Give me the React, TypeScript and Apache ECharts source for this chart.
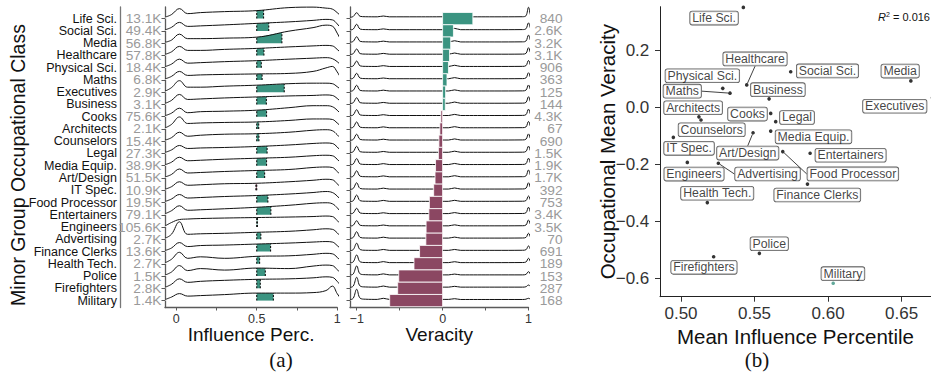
import React, { useEffect, useRef } from "react";
import * as echarts from "echarts";

// ---------------- data ----------------
const OCCUPATIONS = [
  "Life Sci.", "Social Sci.", "Media", "Healthcare", "Physical Sci.", "Maths",
  "Executives", "Business", "Cooks", "Architects", "Counselors", "Legal",
  "Media Equip.", "Art/Design", "IT Spec.", "Food Processor", "Entertainers",
  "Engineers", "Advertising", "Finance Clerks", "Health Tech.", "Police",
  "Firefighters", "Military",
];
const USER_COUNTS = [
  "13.1K", "49.4K", "56.8K", "57.8K", "18.4K", "6.8K", "2.9K", "3.1K", "75.6K",
  "2.1K", "15.4K", "27.3K", "38.9K", "51.5K", "10.9K", "19.5K", "79.1K",
  "105.6K", "2.7K", "13.6K", "2.7K", "1.5K", "2.8K", "1.4K",
];
const CLAIM_COUNTS = [
  "840", "2.6K", "3.2K", "3.1K", "906", "363", "125", "144", "4.3K", "67",
  "690", "1.5K", "1.9K", "1.7K", "392", "753", "3.4K", "3.5K", "70", "691",
  "189", "153", "287", "168",
];
const MEAN_INFLUENCE = [
  0.5424, 0.5746, 0.6563, 0.5447, 0.5284, 0.5333, 0.671, 0.5599, 0.561,
  0.5122, 0.5136, 0.5644, 0.561, 0.549, 0.4948, 0.5692, 0.5878, 0.5043,
  0.5254, 0.586, 0.5179, 0.5533, 0.5222, 0.6035,
];
const MEAN_VERACITY = [
  0.352, 0.126, 0.094, 0.08, 0.068, 0.051, 0.035, 0.031, -0.02, -0.032,
  -0.043, -0.049, -0.082, -0.088, -0.104, -0.154, -0.16, -0.192, -0.195,
  -0.268, -0.333, -0.511, -0.523, -0.616,
];

// ridgeline density readings (heights above each ridge's baseline)
const INFLUENCE_X = [-0.07, -0.03, 0.02, 0.07, 0.15, 0.3, 0.5, 0.7, 0.85, 0.93, 0.97, 1.0, 1.025, 1.05];
const INFLUENCE_DENSITY = [
  [1.5, 4, 10, 5, 6, 7, 8, 11, 11.5, 10.5, 9.5, 6, 2.5, 0.5],
  [1, 3.5, 8.5, 4.5, 5, 6, 7.5, 9, 10.5, 11.5, 11, 7, 2.5, 0.3],
  [0.8, 3, 9, 4.5, 4.5, 5, 6, 12, 15.5, 18, 17, 10, 3, 0.5],
  [1, 3.5, 9, 5, 5, 6, 7, 8.5, 9.5, 10, 9.5, 6, 2.5, 0.5],
  [1, 3.5, 8.5, 4.5, 5, 6, 7, 8.5, 9.5, 10, 9, 6, 2.5, 0.5],
  [1, 3.5, 8.5, 4.5, 5, 5.5, 6, 6.5, 8.5, 12, 13.5, 8, 2, 0.3],
  [1, 4.5, 11.5, 5, 5, 6, 7, 8.5, 9, 9, 8.5, 5.5, 2.5, 0.5],
  [1, 4, 10, 5, 5.5, 6.5, 7.5, 8.5, 9, 9.5, 9, 6, 2.5, 0.5],
  [1, 3.5, 8.5, 4, 5, 5.5, 6.5, 9, 11, 11, 10, 6.5, 2.5, 0.5],
  [1, 4.5, 12, 5.5, 6, 6.5, 7, 8.5, 10, 10, 9.5, 6, 2.5, 0.5],
  [1, 3.5, 9, 5, 6, 7, 7.5, 9, 11, 11.5, 10.5, 6.5, 2.5, 0.5],
  [1, 3.5, 8, 5, 5.5, 6, 7, 8.5, 10, 10.5, 10, 6.5, 2.5, 0.5],
  [1, 3.5, 8.5, 5, 5.5, 6.5, 7.5, 8.5, 10, 10.5, 10, 6.5, 2.5, 0.5],
  [1, 3.5, 9, 5, 5.5, 6.5, 7.5, 8.5, 10.5, 11, 10.5, 6.5, 2.5, 0.5],
  [1, 3.5, 8.5, 5, 5.5, 6.5, 7, 8.5, 10, 11, 10.5, 6.5, 2.5, 0.5],
  [1, 3.5, 8, 4.5, 5, 6, 7, 8.5, 10, 11, 10, 6.5, 2.5, 0.5],
  [1, 4, 9, 4.5, 5, 6, 7.5, 9.5, 11.5, 12, 11, 7, 2.5, 0.5],
  [1, 4.5, 7.5, 8, 8.5, 9, 9.5, 10, 10.5, 11, 10.5, 6.5, 2.5, 0.5],
  [1, 5, 17.5, 5, 5.5, 6, 7, 8, 9.5, 10.5, 10, 6.5, 2.5, 0.5],
  [1, 3.5, 9, 5, 6, 6.5, 7.5, 8.5, 9.5, 10, 9.5, 6, 2.5, 0.5],
  [1, 4.5, 11.5, 5.5, 7, 5.5, 7.5, 8, 9.5, 10.5, 10, 6.5, 2.5, 0.5],
  [1, 4, 10.5, 5.5, 7.5, 6, 8, 7.5, 10, 11, 10.5, 6.5, 2.5, 0.5],
  [1, 4, 9.5, 6, 7, 8, 9, 9.5, 10.5, 11.5, 11, 7, 2.5, 0.5],
  [1, 3.5, 7, 4.5, 5, 6, 7.5, 7.5, 8, 10, 14.5, 7, 2, 0.5],
];
const VERACITY_X = [-1.078, -1.04, -1.0, -0.96, -0.9, -0.76, -0.69, -0.62, -0.3, 0.07, 0.14, 0.21, 0.6, 0.93, 0.97, 1.0, 1.03, 1.07];
const VERACITY_DENSITY = [
  [1.2, 2.2, 5.9, 2.3, 1.9, 1.8, 2.6, 1.8, 1.8, 1.9, 3.2, 1.8, 1.8, 1.9, 2.8, 11.3, 2.4, 0.5],
  [0.8, 1.8, 6.6, 1.8, 1.3, 1.2, 2.0, 1.2, 1.2, 1.2, 2.5, 1.2, 1.2, 1.3, 2.1, 8.0, 1.7, 0.4],
  [0.8, 1.8, 6.4, 1.8, 1.3, 1.2, 2.0, 1.2, 1.2, 1.2, 2.4, 1.2, 1.2, 1.3, 2.1, 8.0, 1.7, 0.4],
  [0.8, 1.8, 6.4, 1.8, 1.3, 1.2, 2.0, 1.2, 1.2, 1.2, 2.4, 1.2, 1.2, 1.3, 2.0, 7.7, 1.7, 0.4],
  [0.8, 1.8, 6.6, 1.8, 1.3, 1.2, 2.0, 1.2, 1.2, 1.2, 2.4, 1.2, 1.2, 1.3, 2.0, 7.2, 1.6, 0.4],
  [0.8, 1.8, 6.6, 1.8, 1.3, 1.2, 1.9, 1.2, 1.2, 1.2, 2.3, 1.2, 1.2, 1.3, 2.0, 7.2, 1.6, 0.4],
  [0.8, 1.8, 6.9, 1.8, 1.3, 1.2, 2.0, 1.2, 1.2, 1.2, 2.3, 1.2, 1.2, 1.3, 2.0, 7.2, 1.6, 0.4],
  [0.8, 1.8, 6.7, 1.8, 1.3, 1.2, 2.0, 1.2, 1.2, 1.2, 2.4, 1.2, 1.2, 1.3, 2.0, 7.7, 1.6, 0.4],
  [0.8, 1.8, 7.0, 1.8, 1.3, 1.2, 2.0, 1.2, 1.2, 1.2, 2.3, 1.2, 1.2, 1.3, 2.0, 7.5, 1.6, 0.4],
  [0.8, 1.8, 7.0, 1.8, 1.3, 1.2, 2.1, 1.2, 1.2, 1.2, 2.3, 1.2, 1.2, 1.3, 2.0, 7.5, 1.6, 0.4],
  [0.8, 1.8, 7.0, 1.8, 1.3, 1.2, 2.0, 1.2, 1.2, 1.2, 2.3, 1.2, 1.2, 1.3, 2.0, 7.3, 1.6, 0.4],
  [0.8, 1.8, 7.2, 1.8, 1.3, 1.2, 2.0, 1.2, 1.2, 1.2, 2.3, 1.2, 1.2, 1.3, 2.0, 7.3, 1.6, 0.4],
  [0.8, 1.8, 7.2, 1.8, 1.3, 1.2, 2.1, 1.2, 1.2, 1.2, 2.3, 1.2, 1.2, 1.3, 2.0, 7.5, 1.6, 0.4],
  [0.8, 1.8, 7.2, 1.8, 1.3, 1.2, 2.1, 1.2, 1.2, 1.2, 2.3, 1.2, 1.2, 1.3, 2.1, 8.0, 1.7, 0.4],
  [0.8, 1.8, 7.5, 1.8, 1.3, 1.2, 2.1, 1.2, 1.2, 1.2, 2.3, 1.2, 1.2, 1.3, 2.0, 7.5, 1.6, 0.4],
  [0.8, 1.8, 7.5, 1.8, 1.3, 1.2, 2.1, 1.2, 1.2, 1.2, 2.2, 1.2, 1.2, 1.3, 1.9, 6.5, 1.5, 0.4],
  [0.8, 1.8, 6.5, 1.8, 1.3, 1.2, 2.0, 1.2, 1.2, 1.2, 2.2, 1.2, 1.2, 1.3, 2.0, 7.5, 1.6, 0.4],
  [0.8, 1.8, 6.3, 1.8, 1.3, 1.2, 2.0, 1.2, 1.2, 1.2, 2.2, 1.2, 1.2, 1.3, 2.0, 7.0, 1.6, 0.4],
  [0.8, 1.9, 7.6, 1.9, 1.3, 1.2, 2.1, 1.2, 1.2, 1.2, 2.2, 1.2, 1.2, 1.3, 1.9, 6.0, 1.5, 0.4],
  [0.8, 2.0, 8.3, 2.0, 1.3, 1.2, 2.1, 1.2, 1.2, 1.2, 2.1, 1.2, 1.2, 1.3, 1.8, 5.6, 1.5, 0.4],
  [0.8, 2.0, 8.8, 2.0, 1.3, 1.2, 2.2, 1.2, 1.2, 1.2, 2.1, 1.2, 1.2, 1.3, 1.8, 5.5, 1.5, 0.4],
  [0.8, 2.2, 10.1, 2.2, 1.4, 1.2, 2.2, 1.2, 1.2, 1.2, 2.0, 1.2, 1.2, 1.2, 1.7, 4.4, 1.4, 0.4],
  [0.8, 2.3, 11.0, 2.3, 1.4, 1.2, 2.3, 1.2, 1.2, 1.2, 2.0, 1.2, 1.2, 1.2, 1.6, 3.3, 1.3, 0.4],
  [0.8, 2.4, 11.3, 2.4, 1.4, 1.2, 2.3, 1.2, 1.2, 1.2, 1.9, 1.1, 1.1, 1.1, 1.4, 2.3, 1.2, 0.4],
];

const INFLUENCE_TICKS = [0, 0.25, 0.5, 0.75, 1];
const INFLUENCE_LABELS = [0, 0.5, 1];
const VERACITY_TICKS = [-1, -0.5, 0, 0.5, 1];
const VERACITY_LABELS = [-1, 0, 1];
const SCATTER_X_TICKS = [0.5, 0.55, 0.6, 0.65];
const SCATTER_Y_TICKS = [-0.6, -0.4, -0.2, 0, 0.2];
const LINKED_LABELS = ["Healthcare", "Maths", "Art/Design", "Food Processor", "Advertising"];

// ---------------- layout / style ----------------
const LABEL_NUDGE: number[][] = [
  [-29.3, 10.7], [36.8, -0.9], [-10.7, -9.8], [8.3, -26], [-20.4, -12.5], [-47.7, -2],
  [-37.7, 8.6], [8.8, -9.2], [-23.2, 0.7], [-5.8, -9], [10.7, 9.8], [21.3, -4.2],
  [42.8, 5.8], [-5.3, 20.3], [15.7, 11], [70.1, 22.3], [40.5, 2], [6.7, 11.7],
  [49.2, 10.7], [9.8, 11], [9.9, -9.4], [9.9, -9.6], [-9.7, 10.6], [9.7, -9.6],
];
const TEAL = "#3b9481";
const MAROON = "#8b4762";
const FONT = "'Liberation Sans', Arial, Helvetica, sans-serif";
const SERIF = "'Liberation Serif', 'DejaVu Serif', serif";
const PANEL_AXIS = "#5a5a5a";
const PX_PER_ROW = 12.26;
const ROW_MIN = -0.563;
const ROW_MAX = 23.948;
const PANEL_TOP = 7;
const PANEL_H = 300.5;

const N = OCCUPATIONS.length;
const ROW_VALUES = OCCUPATIONS.map((_, r) => N - 1 - r);
const LABEL_TOP = PANEL_TOP + (ROW_MAX - (N - 1) - 0.5) * (PANEL_H / (ROW_MAX - ROW_MIN));
const LABEL_H = N * (PANEL_H / (ROW_MAX - ROW_MIN));
const minus = (v: number, d?: number) => {
  const s = d === undefined ? String(Math.abs(v)) : Math.abs(v).toFixed(d);
  return v < 0 ? "\u2212" + s : s;
};

function lerp(xs: number[], ys: number[], x: number) {
  for (let i = 0; i < xs.length - 1; i++) {
    if (x >= xs[i] && x <= xs[i + 1]) {
      const t = (x - xs[i]) / (xs[i + 1] - xs[i]);
      return ys[i] + t * (ys[i + 1] - ys[i]);
    }
  }
  return ys[ys.length - 1];
}

function buildOption() {
  const series: any[] = [];

  // influence ridges (each ridge: white fill, highlighted region, outline)
  OCCUPATIONS.forEach((_, r) => {
    const k = N - 1 - r;
    const dens = INFLUENCE_DENSITY[r];
    const pts = INFLUENCE_X.map((x, i) => [x, k + dens[i] / PX_PER_ROW]);
    series.push({
      type: "line", xAxisIndex: 0, yAxisIndex: 0, data: pts, smooth: 0.4,
      symbol: "none", silent: true, clip: false, z: 10 + 3 * r,
      lineStyle: { width: 0, opacity: 0 },
      areaStyle: { color: "#ffffff", opacity: 1, origin: k },
    });
    series.push({
      type: "custom", xAxisIndex: 0, yAxisIndex: 0, silent: true, clip: false, z: 11 + 3 * r,
      data: [[MEAN_INFLUENCE[r], k]],
      renderItem: (_p: any, api: any) => {
        const m = api.value(0);
        const base = api.value(1);
        const h5 = lerp(INFLUENCE_X, dens, 0.5) / PX_PER_ROW;
        const hm = lerp(INFLUENCE_X, dens, m) / PX_PER_ROW;
        const a = api.coord([0.5, base]);
        const b = api.coord([0.5, base + h5]);
        const c = api.coord([m, base + hm]);
        const d = api.coord([m, base]);
        const dash = { stroke: "#111", lineWidth: 1.1, lineDash: [2, 1.5] };
        return {
          type: "group",
          children: [
            { type: "polygon", shape: { points: [a, b, c, d] }, style: { fill: m >= 0.5 ? TEAL : MAROON } },
            { type: "line", shape: { x1: a[0], y1: a[1], x2: b[0], y2: b[1] }, style: dash },
            { type: "line", shape: { x1: d[0], y1: d[1], x2: c[0], y2: c[1] }, style: dash },
          ],
        };
      },
    });
    series.push({
      type: "line", xAxisIndex: 0, yAxisIndex: 0, data: pts, smooth: 0.4,
      symbol: "none", silent: true, clip: false, z: 12 + 3 * r,
      lineStyle: { color: "#111", width: 1 },
    });
  });

  // veracity ridges
  OCCUPATIONS.forEach((_, r) => {
    const k = N - 1 - r;
    const dens = VERACITY_DENSITY[r];
    series.push({
      type: "line", xAxisIndex: 1, yAxisIndex: 2,
      data: VERACITY_X.map((x, i) => [x, k + dens[i] / PX_PER_ROW]),
      smooth: 0.4, symbol: "none", silent: true, clip: false, z: 10 + r,
      lineStyle: { color: "#111", width: 1 },
      areaStyle: { color: "#ffffff", opacity: 1, origin: k },
    });
  });

  // veracity mean bars
  series.push({
    type: "custom", xAxisIndex: 1, yAxisIndex: 2, silent: true, clip: false, z: 120,
    data: MEAN_VERACITY.map((v, r) => [v, N - 1 - r]),
    renderItem: (_p: any, api: any) => {
      const v = api.value(0);
      const k = api.value(1);
      const p0 = api.coord([Math.min(0, v), k + 0.5]);
      const p1 = api.coord([Math.max(0, v), k - 0.5]);
      return {
        type: "rect",
        shape: { x: p0[0], y: p0[1], width: p1[0] - p0[0], height: p1[1] - p0[1] },
        style: { fill: v >= 0 ? TEAL : MAROON, stroke: "#ffffff", lineWidth: 0.8 },
      };
    },
  });

  // scatter
  series.push({
    type: "scatter", xAxisIndex: 2, yAxisIndex: 3, clip: false, symbolSize: 3.6, z: 5,
    data: OCCUPATIONS.map((name, r) => ({
      value: [MEAN_INFLUENCE[r], MEAN_VERACITY[r]],
      name,
      itemStyle: { color: name === "Military" ? TEAL : "#000" },
      labelLine: { show: LINKED_LABELS.includes(name) },
    })),
    label: {
      show: true, position: "inside", formatter: "{b}", fontSize: 12.3,
      fontFamily: FONT, color: "#111", backgroundColor: "#fff",
      borderColor: "#333", borderWidth: 0.8, borderRadius: 2,
      padding: [1, 2, 0, 2], lineHeight: 12,
    },
    labelLine: { show: false, lineStyle: { color: "#111", width: 0.8 } },
    labelLayout: (p: any) => ({ dx: LABEL_NUDGE[p.dataIndex][0], dy: LABEL_NUDGE[p.dataIndex][1] }),
    emphasis: { disabled: true },
  });

  const rowAxis = { type: "value", min: ROW_MIN, max: ROW_MAX, splitLine: { show: false } };
  const panelLine = { show: true, onZero: false, lineStyle: { color: PANEL_AXIS, width: 1.3 } };
  const hiddenX = { type: "value", show: false, min: 0, max: 1 };
  const catLabels = (data: string[], extra: any) => ({
    type: "category", inverse: true, data, splitLine: { show: false },
    axisLine: { show: false }, axisTick: { show: false },
    axisLabel: { interval: 0, lineHeight: 12, ...extra },
  });

  return {
    animation: false,
    backgroundColor: "#fff",
    textStyle: { fontFamily: FONT },
    grid: [
      { left: 165, top: PANEL_TOP, width: 172.2, height: PANEL_H, outerBoundsMode: "none" },
      { left: 350, top: PANEL_TOP, width: 178.5, height: PANEL_H, outerBoundsMode: "none" },
      { left: 660, top: 6.7, width: 271, height: 290, outerBoundsMode: "none" },
      { left: 165, top: LABEL_TOP, width: 1, height: LABEL_H, outerBoundsMode: "none" },
      { left: 527.5, top: LABEL_TOP, width: 1, height: LABEL_H, outerBoundsMode: "none" },
    ],
    xAxis: [
      {
        type: "value", gridIndex: 0, min: -0.07, max: 1.0, splitLine: { show: false },
        axisLine: panelLine,
        axisTick: { show: true, length: 3, customValues: INFLUENCE_TICKS, lineStyle: { color: PANEL_AXIS } },
        axisLabel: { customValues: INFLUENCE_LABELS, showMinLabel: true, showMaxLabel: true, margin: 4.5, fontSize: 12.5, color: "#333", formatter: (v: number) => minus(v) },
        name: "Influence Perc.", nameLocation: "middle", nameGap: 17, nameMoveOverlap: false,
        nameTextStyle: { fontSize: 19, color: "#111", fontFamily: FONT },
      },
      {
        type: "value", gridIndex: 1, min: -1.078, max: 1.0, splitLine: { show: false },
        axisLine: panelLine,
        axisTick: { show: true, length: 3, customValues: VERACITY_TICKS, lineStyle: { color: PANEL_AXIS } },
        axisLabel: { customValues: VERACITY_LABELS, showMinLabel: true, showMaxLabel: true, margin: 4.5, fontSize: 12.5, color: "#333", formatter: (v: number) => minus(v) },
        name: "Veracity", nameLocation: "middle", nameGap: 17, nameMoveOverlap: false,
        nameTextStyle: { fontSize: 19, color: "#111", fontFamily: FONT },
      },
      {
        type: "value", gridIndex: 2, min: 0.48572, max: 0.67, splitLine: { show: false },
        axisLine: { show: true, onZero: false, lineStyle: { color: "#222", width: 1 } },
        axisTick: { show: true, length: 5, customValues: SCATTER_X_TICKS, lineStyle: { color: "#333" } },
        axisLabel: { customValues: SCATTER_X_TICKS, margin: 8, fontSize: 17, color: "#333", formatter: (v: number) => v.toFixed(2) },
        name: "Mean Influence Percentile", nameLocation: "middle", nameGap: 29.7, nameMoveOverlap: false,
        nameTextStyle: { fontSize: 20.5, color: "#111", fontFamily: FONT },
      },
      { ...hiddenX, gridIndex: 3 },
      { ...hiddenX, gridIndex: 4 },
    ],
    yAxis: [
      {
        ...rowAxis, gridIndex: 0, position: "left", axisLine: panelLine,
        axisTick: { show: true, length: 3.5, customValues: ROW_VALUES, lineStyle: { color: PANEL_AXIS } },
        axisLabel: { show: false },
      },
      {
        ...rowAxis, gridIndex: 0, position: "left", offset: 45,
        axisLine: { show: true, onZero: false, lineStyle: { color: "#777", width: 1.3 } },
        axisTick: { show: false }, axisLabel: { show: false },
      },
      {
        ...rowAxis, gridIndex: 1, position: "left", axisLine: panelLine,
        axisTick: { show: true, length: 3.5, customValues: ROW_VALUES, lineStyle: { color: PANEL_AXIS } },
        axisLabel: { show: false },
      },
      {
        type: "value", gridIndex: 2, position: "left", min: -0.6632, max: 0.3544, splitLine: { show: false },
        axisLine: { show: true, onZero: false, lineStyle: { color: "#222", width: 1 } },
        axisTick: { show: true, length: 5, customValues: SCATTER_Y_TICKS, lineStyle: { color: "#333" } },
        axisLabel: { customValues: SCATTER_Y_TICKS, margin: 10.7, fontSize: 17, color: "#333", formatter: (v: number) => minus(v, 1) },
        name: "Occupational Mean Veracity", nameLocation: "middle", nameGap: 41.7, nameMoveOverlap: false,
        nameTextStyle: { fontSize: 20.5, color: "#111", fontFamily: FONT },
      },
      { ...catLabels(USER_COUNTS, { margin: 3.5, fontSize: 13.7, color: "#9a9a9a" }), gridIndex: 3, position: "left" },
      { ...catLabels(OCCUPATIONS, { margin: 3, fontSize: 12.5, color: "#111" }), gridIndex: 3, position: "left", offset: 45 },
      { ...catLabels(CLAIM_COUNTS, { margin: 34, align: "right", fontSize: 13.7, color: "#9a9a9a" }), gridIndex: 4, position: "right" },
    ],
    graphic: [
      {
        type: "text", x: 17.5, y: 165, rotation: Math.PI / 2,
        style: { text: "Minor Group Occupational Class", fontSize: 19.5, fontFamily: FONT, fill: "#111", align: "center", verticalAlign: "middle" },
      },
      {
        type: "text", x: 930, y: 17,
        style: {
          text: "{i|R}{s|2}{n| = 0.016}", align: "right", verticalAlign: "middle", fill: "#111",
          rich: {
            i: { fontStyle: "italic", fontSize: 11, fontFamily: FONT, fill: "#111" },
            s: { fontSize: 7, fontFamily: FONT, verticalAlign: "top", padding: [0, 0, 5, 0], fill: "#111" },
            n: { fontSize: 11, fontFamily: FONT, fill: "#111" },
          },
        },
      },
      { type: "text", x: 281, y: 360, style: { text: "(a)", fontSize: 21, fontFamily: SERIF, fill: "#111", align: "center", verticalAlign: "middle" } },
      { type: "text", x: 757, y: 360, style: { text: "(b)", fontSize: 21, fontFamily: SERIF, fill: "#111", align: "center", verticalAlign: "middle" } },
    ],
    series,
  };
}

export default function App() {
  const ref = useRef<HTMLDivElement>(null);
  useEffect(() => {
    if (!ref.current) return;
    const chart = echarts.init(ref.current, null, { renderer: "svg" });
    chart.setOption(buildOption() as any);
    return () => chart.dispose();
  }, []);
  return (
    <div
      ref={ref}
      style={{ position: "fixed", left: 0, top: 0, width: 931, height: 372, background: "#fff" }}
    />
  );
}
